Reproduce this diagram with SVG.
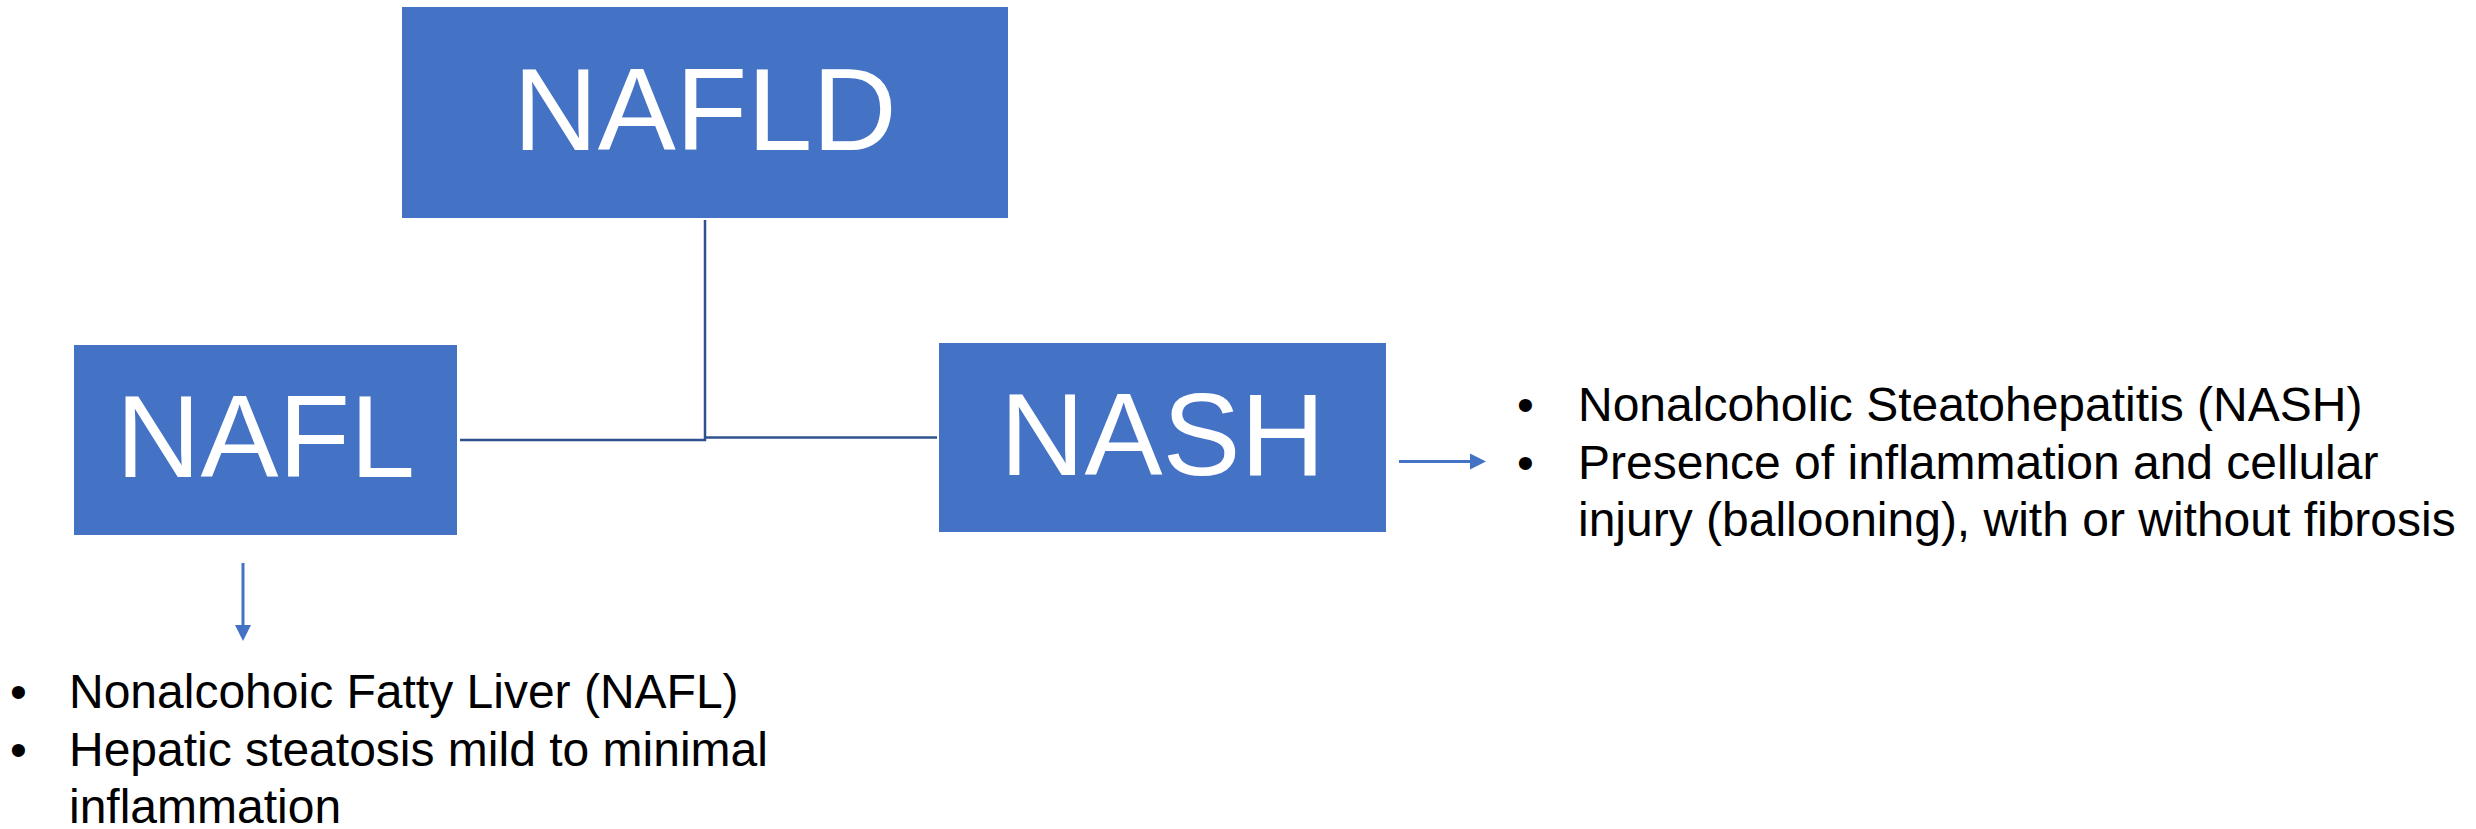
<svg xmlns="http://www.w3.org/2000/svg" width="2476" height="829" viewBox="0 0 2476 829">
  <defs>
    <style>
      .box { fill: #4472C4; }
      .box-label { font-family: "Liberation Sans", Arial, sans-serif; font-size: 117px; fill: #FFFFFF; text-anchor: middle; }
      .elbow { stroke: #2F528F; stroke-width: 2.5; fill: none; }
      .pointer { stroke: #4472C4; stroke-width: 3; fill: none; }
      .head { fill: #4472C4; }
      .note { font-family: "Liberation Sans", Arial, sans-serif; font-size: 48px; fill: #000000; }
    </style>
  </defs>
  <rect width="2476" height="829" fill="#FFFFFF"/>

  <!-- tree connectors between the three boxes -->
  <g id="connectors">
    <line class="elbow" x1="705" y1="220" x2="705" y2="441"/>
    <line class="elbow" x1="460" y1="440" x2="706" y2="440"/>
    <line class="elbow" x1="705" y1="437.5" x2="937" y2="437.5"/>
    <!-- NAFL description pointer -->
    <line class="pointer" x1="243" y1="563" x2="243" y2="626"/>
    <polygon class="head" points="235,625 251,625 243,641"/>
    <!-- NASH description pointer -->
    <line class="pointer" x1="1399" y1="461.5" x2="1471" y2="461.5"/>
    <polygon class="head" points="1470,453.5 1470,469.5 1486,461.5"/>
  </g>

  <g id="node-nafld">
    <rect class="box" x="402" y="7" width="606" height="211"/>
    <text class="box-label" x="705" y="150">NAFLD</text>
  </g>

  <g id="node-nafl">
    <rect class="box" x="74" y="345" width="383" height="190"/>
    <text class="box-label" x="265.5" y="477">NAFL</text>
  </g>

  <g id="node-nash">
    <rect class="box" x="939" y="343" width="447" height="189"/>
    <text class="box-label" x="1162.5" y="475">NASH</text>
  </g>

  <g id="notes-nafl">
    <text class="note" x="10" y="708">•</text>
    <text class="note" x="69" y="708">Nonalcohoic Fatty Liver (NAFL)</text>
    <text class="note" x="10" y="765.5">•</text>
    <text class="note" x="69" y="765.5">Hepatic steatosis mild to minimal</text>
    <text class="note" x="69" y="823">inflammation</text>
  </g>

  <g id="notes-nash">
    <text class="note" x="1517" y="421">•</text>
    <text class="note" x="1578" y="421">Nonalcoholic Steatohepatitis (NASH)</text>
    <text class="note" x="1517" y="478.5">•</text>
    <text class="note" x="1578" y="478.5">Presence of inflammation and cellular</text>
    <text class="note" x="1578" y="536">injury (ballooning), with or without fibrosis</text>
  </g>
</svg>
